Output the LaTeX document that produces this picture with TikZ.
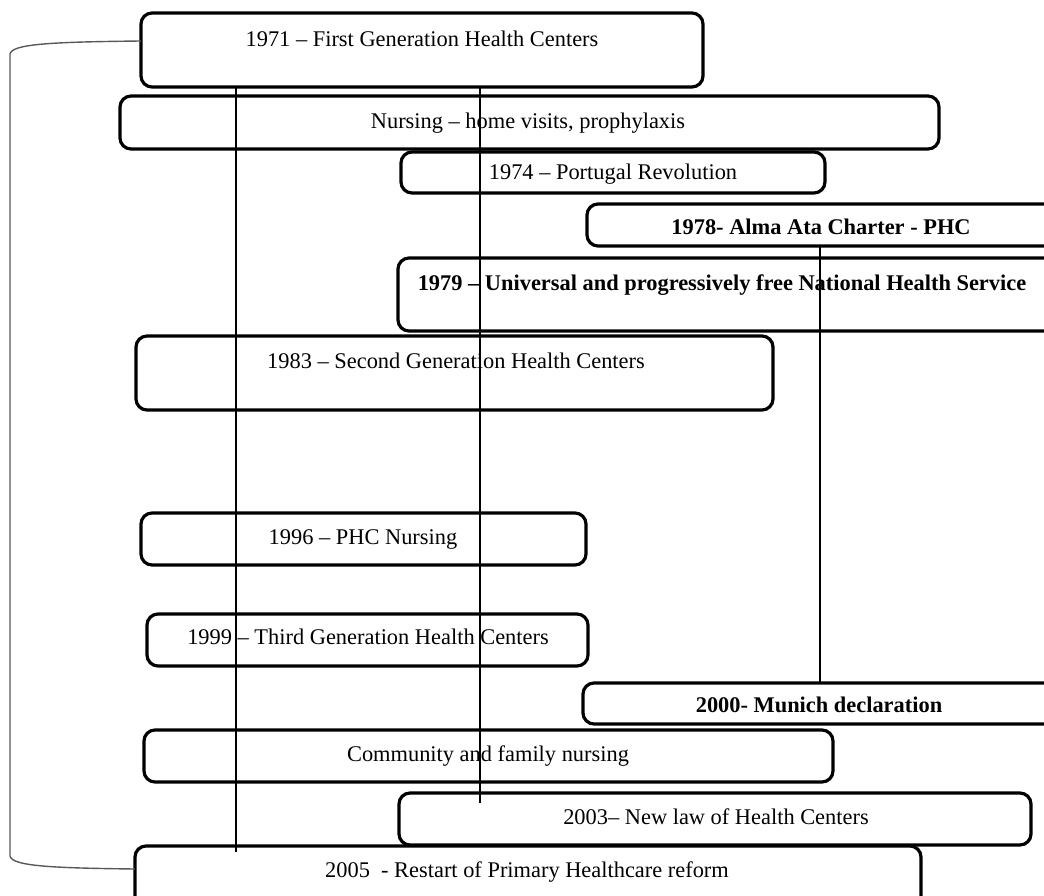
\documentclass[tikz,border=0pt]{standalone}
\usepackage{fontspec}
\setmainfont{Liberation Serif}
\usetikzlibrary{calc}
\tikzset{
  boxst/.style={draw=black, line width=3.2pt, rounded corners=11pt, anchor=north west, inner sep=0pt, outer sep=0pt},
  txt/.style={anchor=base, inner sep=0pt, font=\fontsize{22.4}{26}\selectfont},
  btxt/.style={txt, font=\fontsize{22.4}{26}\selectfont\bfseries},
  conn/.style={draw=black, line width=1.4pt},
  brk/.style={draw=black!65, line width=1.4pt},
}
\begin{document}
\begin{tikzpicture}[x=1pt,y=-1pt]
\useasboundingbox (0,0) rectangle (1044,896);
\clip (0,0) rectangle (1044,896);
% boxes
\node[boxst, minimum width=562, minimum height=74] (b1971) at (141,13) {};
\node[boxst, minimum width=819, minimum height=53] (bnurs) at (120,96) {};
\node[boxst, minimum width=424, minimum height=41] (b1974) at (401,152) {};
\node[boxst, minimum width=480, minimum height=42] (b1978) at (587,204) {};
\node[boxst, minimum width=670, minimum height=73] (b1979) at (398,258) {};
\node[boxst, minimum width=637, minimum height=74] (b1983) at (136,336) {};
\node[boxst, minimum width=445, minimum height=52] (b1996) at (141,513) {};
\node[boxst, minimum width=441, minimum height=52] (b1999) at (147,614) {};
\node[boxst, minimum width=480, minimum height=41] (b2000) at (583,683) {};
\node[boxst, minimum width=689, minimum height=52] (bcomm) at (144,730) {};
\node[boxst, minimum width=632, minimum height=52] (b2003) at (399,793) {};
\node[boxst, minimum width=786, minimum height=64] (b2005) at (135,846) {};
% texts
\node[txt] (t1971) at (422,47) {1971 – First Generation Health Centers};
\node[txt] (tnurs) at (528,129) {Nursing – home visits, prophylaxis};
\node[txt] (t1974) at (613,180) {1974 – Portugal Revolution};
\node[btxt] (t1978) at (821,234) {1978- Alma Ata Charter - PHC};
\node[btxt] (t1979) at (722,290) {1979 – Universal and progressively free National Health Service};
\node[txt] (t1983) at (456,368) {1983 – Second Generation Health Centers};
\node[txt] (t1996) at (363,544) {1996 – PHC Nursing};
\node[txt] (t1999) at (368,644) {1999 – Third Generation Health Centers};
\node[btxt] (t2000) at (819,712) {2000- Munich declaration};
\node[txt] (tcomm) at (488,761) {Community and family nursing};
\node[txt] (t2003) at (716,824) {2003– New law of Health Centers};
\node[txt] (t2005) at (527,877) {2005\ \ - Restart of Primary Healthcare reform};
% connectors
\coordinate (e1) at (236,852);
\coordinate (e2) at (480,803);
\draw[conn] (b1971.south -| e1) -- (e1);
\draw[conn] (b1971.south -| e2) -- (e2);
\coordinate (x3) at (820,0);
\draw[conn] (b1978.south -| x3) -- (b2000.north -| x3);
% bracket
\coordinate (bk1) at (b1971.west |- 0,41);
\coordinate (bk2) at (b2005.west |- 0,869);
\draw[brk] (bk1) .. controls (50,42) and (12,44) .. (10,54) -- (10,856) .. controls (12,866) and (50,868) .. (bk2);
\end{tikzpicture}
\end{document}
